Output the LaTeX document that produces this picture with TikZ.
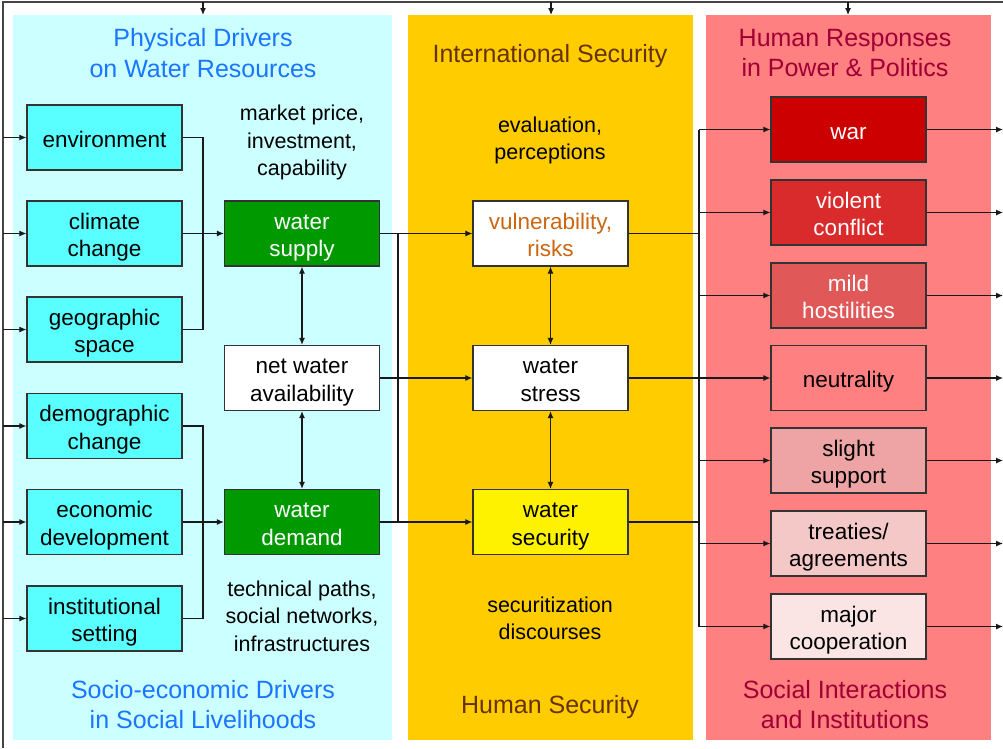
\documentclass[tikz,border=0pt]{standalone}
\usepackage{fontspec}
\setmainfont{Liberation Sans}
\usetikzlibrary{arrows.meta}
\definecolor{cyanpanel}{HTML}{CCFFFF}
\definecolor{cyanbox}{HTML}{59FFFF}
\definecolor{orangepanel}{HTML}{FFCC00}
\definecolor{pinkpanel}{HTML}{FF8080}
\definecolor{greenbox}{HTML}{009900}
\definecolor{titleblue}{HTML}{1A75FF}
\definecolor{titlebrown}{HTML}{663300}
\definecolor{titlered}{HTML}{A00033}
\definecolor{vulntext}{HTML}{CC6611}
\definecolor{cWar}{HTML}{CC0000}
\definecolor{cViol}{HTML}{D92B2B}
\definecolor{cMild}{HTML}{E05858}
\definecolor{cNeut}{HTML}{FF8080}
\definecolor{cSlight}{HTML}{EEA4A4}
\definecolor{cTreat}{HTML}{F5C8C8}
\definecolor{cMajor}{HTML}{FAE4E4}
\definecolor{framegray}{HTML}{444444}
\begin{document}
\begin{tikzpicture}[x=1pt,y=-1pt,
  box/.style={draw=black!80,line width=1.2pt,minimum width=155pt,minimum height=65pt,
    inner sep=0pt,align=center,font=\fontsize{22.5}{27.5}\selectfont,
    text height=46.8pt,text depth=0pt},
  one/.style={text height=19.8pt,text depth=0pt},
  ptitle/.style={align=center,font=\fontsize{25}{30.5}\selectfont},
  plabel/.style={align=center,font=\fontsize{21.5}{27.5}\selectfont},
  conn/.style={line width=1.1pt,draw=black!90},
  arr/.style={conn,-{Latex[length=7pt,width=6pt]}},
  darr/.style={conn,{Latex[length=7pt,width=6pt]}-{Latex[length=7pt,width=6pt]}},
  framel/.style={line width=1.4pt,draw=framegray}]
\useasboundingbox (0,0) rectangle (1003,748);
% panels
\fill[cyanpanel] (13,15) rectangle (392,740);
\fill[orangepanel] (408,15) rectangle (693,740);
\fill[pinkpanel] (706,15) rectangle (991,740);
% titles
\node[ptitle,text=titleblue] (t1) at (203,53) {Physical Drivers\\on Water Resources};
\node[ptitle,text=titleblue] (t2) at (203,704.5) {Socio-economic Drivers\\in Social Livelihoods};
\node[ptitle,text=titlebrown] (t3) at (550,56) {International Security};
\node[ptitle,text=titlebrown] (t4) at (550,707) {Human Security};
\node[ptitle,text=titlered] (t5) at (845,53) {Human Responses\\in Power \& Politics};
\node[ptitle,text=titlered] (t6) at (845,704.5) {Social Interactions\\and Institutions};
% labels
\node[plabel] (l1) at (302,142.7) {market price,\\investment,\\capability};
\node[plabel] (l2) at (302,616) {technical paths,\\social networks,\\infrastructures};
\node[plabel] (l3) at (550,140.5) {evaluation,\\perceptions};
\node[plabel] (l4) at (550,618.5) {securitization\\discourses};
% left boxes
\node[box,one,fill=cyanbox] (env) at (104.5,137.5) {environment};
\node[box,fill=cyanbox] (clim) at (104.5,233.5) {climate\\change};
\node[box,fill=cyanbox] (geo) at (104.5,329.5) {geographic\\space};
\node[box,fill=cyanbox] (demo) at (104.5,426) {demographic\\change};
\node[box,fill=cyanbox] (econ) at (104.5,522) {economic\\development};
\node[box,fill=cyanbox] (inst) at (104.5,618.5) {institutional\\setting};
% middle boxes
\node[box,fill=greenbox,text=white] (supply) at (302,233.5) {water\\supply};
\node[box,fill=white] (net) at (302,378) {net water\\availability};
\node[box,fill=greenbox,text=white] (demand) at (302,522) {water\\demand};
% orange boxes
\node[box,fill=white,text=vulntext] (vuln) at (550.5,233.5) {vulnerability,\\risks};
\node[box,fill=white] (stress) at (550.5,378) {water\\stress};
\node[box,fill=yellow] (secur) at (550.5,522) {water\\security};
% right boxes
\node[box,one,fill=cWar,text=white] (war) at (848.5,129.5) {war};
\node[box,fill=cViol,text=white] (viol) at (848.5,212.5) {violent\\conflict};
\node[box,fill=cMild,text=white] (mild) at (848.5,295.5) {mild\\hostilities};
\node[box,one,fill=cNeut] (neut) at (848.5,378) {neutrality};
\node[box,fill=cSlight] (slight) at (848.5,460.5) {slight\\support};
\node[box,fill=cTreat] (treat) at (848.5,543.5) {treaties/\\agreements};
\node[box,fill=cMajor] (major) at (848.5,626.5) {major\\cooperation};
% frame
\coordinate (fbl) at (3,748);
\coordinate (ftl) at (3,2);
\coordinate (ftr) at (1003,2);
\coordinate (rend) at (1003,0);
\draw[framel] (fbl) -- (ftl) -- (ftr);
\foreach \px/\pn in {203/t1,551/t3,848/t5}{
  \coordinate (ta\pn) at (\px,2);
  \coordinate (tb\pn) at (\px,15);
  \draw[arr] (ta\pn) -- (tb\pn);
}
\foreach \n in {env,clim,geo,demo,econ,inst}{
  \draw[arr] (ftl |- \n.west) -- (\n.west);
}
\foreach \n in {war,viol,mild,neut,slight,treat,major}{
  \draw[arr] (\n.east) -- (rend |- \n.east);
}
% collectors left
\coordinate (c1) at (203,0);
\draw[conn] (env.east) -| (c1 |- geo.east) -- (geo.east);
\draw[conn] (clim.east) -- (c1 |- clim.east);
\draw[arr] (c1 |- supply.west) -- (supply.west);
\draw[conn] (demo.east) -| (c1 |- inst.east) -- (inst.east);
\draw[conn] (econ.east) -- (c1 |- econ.east);
\draw[arr] (c1 |- demand.west) -- (demand.west);
% middle
\draw[darr] (supply.south) -- (net.north);
\draw[darr] (net.south) -- (demand.north);
\coordinate (c2) at (398,0);
\draw[conn] (c2 |- supply.east) -- (c2 |- demand.east);
\draw[arr] (supply.east) -- (vuln.west);
\draw[arr] (net.east) -- (stress.west);
\draw[arr] (demand.east) -- (secur.west);
% orange
\draw[darr] (vuln.south) -- (stress.north);
\draw[darr] (stress.south) -- (secur.north);
\coordinate (c3) at (699,0);
\draw[conn] (c3 |- war.west) -- (c3 |- major.west);
\draw[conn] (vuln.east) -- (c3 |- vuln.east);
\draw[conn] (secur.east) -- (c3 |- secur.east);
\draw[arr] (stress.east) -- (neut.west);
\foreach \n in {war,viol,mild,slight,treat,major}{
  \draw[arr] (c3 |- \n.west) -- (\n.west);
}
\end{tikzpicture}
\end{document}
